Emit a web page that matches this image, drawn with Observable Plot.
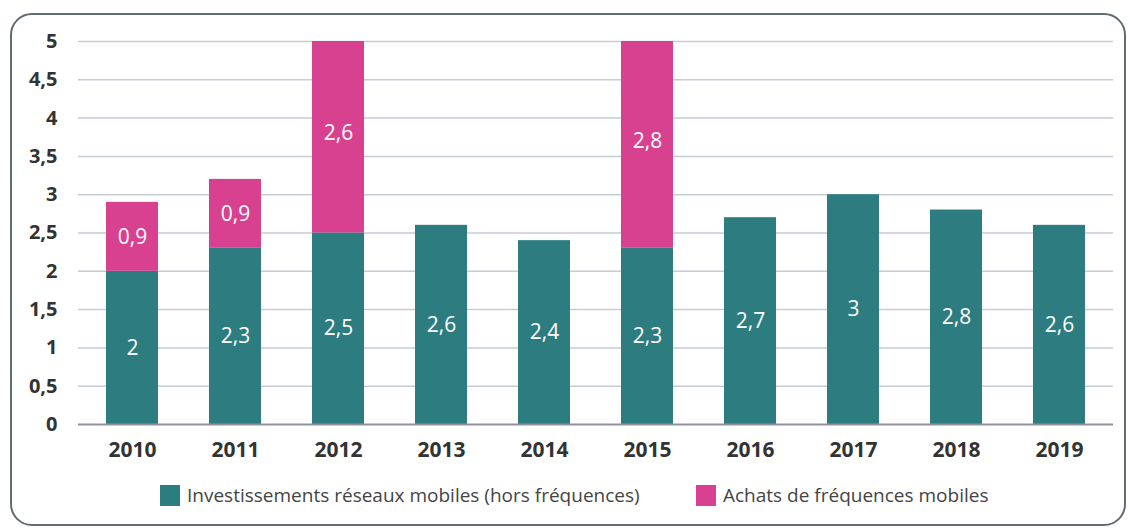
<!DOCTYPE html>
<html><head><meta charset="utf-8">
<script src="https://cdn.jsdelivr.net/npm/d3@7"></script>
<script src="https://cdn.jsdelivr.net/npm/@observablehq/plot@0.6"></script>
<style>
html,body{margin:0;padding:0;background:#fff;width:1130px;height:530px;overflow:hidden;font-family:"Open Sans",sans-serif;}
#frame{position:absolute;left:10px;top:13px;width:1116px;height:513px;border:2px solid #626a74;border-radius:22px;box-sizing:border-box;}
#chart{position:absolute;left:0;top:0;}
#legend{position:absolute;top:482px;left:0;width:1130px;height:28px;font-size:19px;color:#444;}
.sw{position:absolute;top:3px;width:20px;height:21px;}
.lt{position:absolute;top:0px;white-space:nowrap;}
</style></head>
<body>
<div id="frame"></div>
<div id="chart"></div>
<div id="legend"></div>
<script>
const years = ["2010","2011","2012","2013","2014","2015","2016","2017","2018","2019"];
const reseaux = [2, 2.3, 2.5, 2.6, 2.4, 2.3, 2.7, 3, 2.8, 2.6];
const frequences = [0.9, 0.9, 2.6, 0, 0, 2.8, 0, 0, 0, 0];
const seriesNames = ["Investissements réseaux mobiles (hors fréquences)", "Achats de fréquences mobiles"];
const seriesColors = ["#2c7c80", "#d8418f"];
const yTicks = [0, 0.5, 1, 1.5, 2, 2.5, 3, 3.5, 4, 4.5, 5];

const fr = d => String(d).replace(".", ",");
const data = [];
years.forEach((y, i) => {
  data.push({year: y, series: seriesNames[0], value: reseaux[i]});
  if (frequences[i] > 0) data.push({year: y, series: seriesNames[1], value: frequences[i]});
});

const plot = Plot.plot({
  width: 1130,
  height: 470,
  marginLeft: 78,
  marginRight: 17,
  marginTop: 41,
  marginBottom: 46,
  style: {fontFamily: "Open Sans, sans-serif", background: "transparent"},
  x: {domain: years, paddingInner: 0.5, paddingOuter: 0.256, label: null, axis: null},
  y: {domain: [0, 5], clamp: true, label: null, axis: null},
  color: {domain: seriesNames, range: seriesColors},
  marks: [
    Plot.ruleY(yTicks.filter(d => d > 0), {stroke: "#c6cbd4", strokeWidth: 1.5}),
    Plot.barY(data, {x: "year", y: "value", fill: "series", order: seriesNames}),
    Plot.text(data, Plot.stackY({x: "year", y: "value", z: "series", order: seriesNames, text: d => fr(d.value), fill: "white", fontSize: 21, fontWeight: 500})),
    Plot.ruleY([0], {stroke: "#8e939c", strokeWidth: 2}),
    Plot.axisY(yTicks, {tickSize: 0, tickPadding: 21, tickFormat: fr, fontSize: 20, fontWeight: 700, fill: "#333", label: null}),
    Plot.axisX({tickSize: 0, tickPadding: 18, fontSize: 21, fontWeight: 700, fill: "#333", label: null})
  ]
});
document.getElementById("chart").appendChild(plot);

const legend = document.getElementById("legend");
const legendX = [[160, 187], [696, 723]];
seriesNames.forEach((n, i) => {
  const s = document.createElement("div");
  s.className = "sw"; s.style.left = legendX[i][0] + "px"; s.style.background = seriesColors[i];
  const t = document.createElement("div");
  t.className = "lt"; t.style.left = legendX[i][1] + "px"; t.textContent = n;
  legend.appendChild(s); legend.appendChild(t);
});
</script>
</body></html>
